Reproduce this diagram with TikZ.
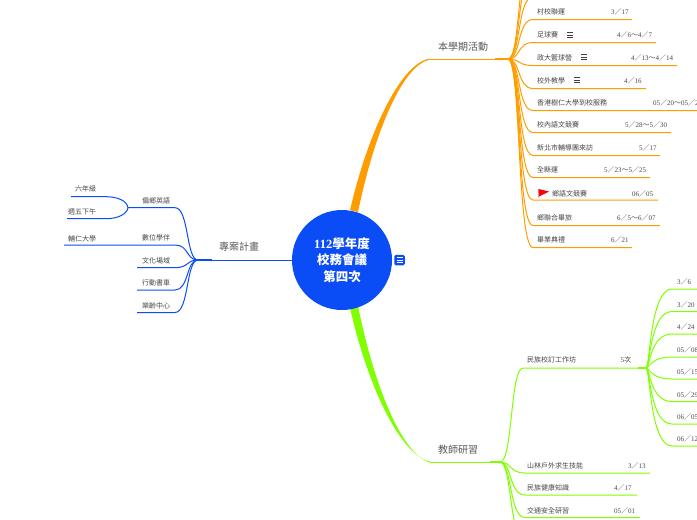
\documentclass[tikz,border=0pt]{standalone}
\usepackage{fontspec}
\setmainfont{Liberation Serif}
\newfontfamily\cjk{Noto Sans CJK TC}
\definecolor{mapblue}{HTML}{0A4CF5}
\definecolor{maporange}{HTML}{FF9D00}
\definecolor{mapgreen}{HTML}{80FF00}
\newcommand{\sla}{{\cjk ／}}
\newcommand{\tld}{{\cjk ～}}
\newcommand{\notesign}[3]{\foreach \k in {-2.5,0,2.5} \draw[#3,line width=.8pt] (#1-3,#2+\k) -- (#1+3,#2+\k);}
\tikzset{
	itemtext/.style={anchor=west,inner sep=0pt,yshift=-1pt,text=black!72,font=\cjk\fontsize{7}{8}\selectfont},
	datetext/.style={anchor=west,inner sep=0pt,yshift=-1pt,text=black!72,font=\fontsize{7}{8}\selectfont},
	headtext/.style={anchor=west,inner sep=0pt,text=black!65,font=\cjk\fontsize{10}{12}\selectfont},
	rootnode/.style={circle,fill=mapblue,minimum size=100pt,inner sep=0pt,align=center,text=white,font=\fontsize{12.5}{16.5}\selectfont\bfseries},
}
\begin{document}
\begin{tikzpicture}[x=1pt,y=-1pt]
	\useasboundingbox (0,0) rectangle (697,520);
	\clip (0,0) rectangle (697,520);
	\coordinate (hubO) at (508,59);
	\coordinate (hubG) at (500,462);
	\coordinate (hubF) at (646,368);
	\coordinate (hubB) at (198,260);
	\coordinate (hubE) at (128,207.7);
	% main branches
	\fill[maporange] (350,210) .. controls (370,125) and (403,62) .. (430,58.5) -- (430,59.5) .. controls (403,65) and (375,130) .. (358,212) -- cycle;
	\fill[mapgreen] (350,308) .. controls (370,395) and (403,456) .. (430,461.5) -- (430,462.5) .. controls (403,455) and (375,390) .. (358,306) -- cycle;
	\draw[maporange,line width=1pt] (430,59) -- (495,59);
	\draw[maporange,line width=2pt] (495,59) -- (hubO);
	\draw[mapgreen,line width=1pt] (430,462) -- (490,462);
	\draw[mapgreen,line width=2pt] (490,462) -- (hubG);
	\draw[mapblue,line width=1pt] (292,260) -- (212,260);
	\draw[mapblue,line width=2pt] (212,260) -- (hubB);
	\node[headtext] (plan) at (438,47) {本學期活動};
	\node[headtext] (study) at (438,450) {教師研習};
	\node[headtext] (project) at (219,247) {專案計畫};
	% orange items
	\foreach \n/\y/\xend/\xdate/\lab/\dat in {
		a/11/632/611/村校聯運/3\sla 17,
		b/34/656/617/足球賽/4\sla 6\tld 4\sla 7,
		c/57/677/631/政大籃球營/4\sla 13\tld 4\sla 14,
		d/80/646/624/校外教學/4\sla 16,
		e/102/710/653/香港樹仁大學到校服務/05\sla 20\tld 05\sla 24,
		f/124/671/625/校內語文競賽/5\sla 28\tld 5\sla 30,
		g/147/660/639/新北市輔導團來訪/5\sla 17,
		h/169/650/604/全縣運/5\sla 23\tld 5\sla 25,
		j/217/660/617/鄉聯合畢旅/6\sla 5\tld 6\sla 07,
		k/239/632/611/畢業典禮/6\sla 21}{
		\coordinate (o\n) at (533,\y+8.5);
		\coordinate (oe\n) at (\xend,\y+8.5);
		\draw[maporange,line width=1pt] (hubO) .. controls (521,59) and (517,\y+8.5) .. (o\n) -- (oe\n);
		\node[itemtext] (lab\n) at (537,\y) {\lab};
		\node[datetext] (dat\n) at (\xdate,\y) {\dat};
	}
	\coordinate (oi) at (533,200);
	\coordinate (oei) at (658,200);
	\draw[maporange,line width=1pt] (hubO) .. controls (521,59) and (517,200) .. (oi) -- (oei);
	\node[itemtext] (labi) at (552,193) {鄉語文競賽};
	\node[datetext] (dati) at (632,193) {06\sla 05};
	\foreach \y in {-3,-26,-48} {
		\coordinate (ot\y) at (533,\y);
		\draw[maporange,line width=1pt] (hubO) .. controls (521,59) and (517,\y) .. (ot\y);
	}
	\notesign{570}{35}{black!75}
	\notesign{584}{57}{black!75}
	\notesign{577}{80}{black!75}
	% flag
	\draw[black!25,line width=1pt] (538,189) -- (538,198);
	\fill[red] (538.5,189) -- (549,191.5) -- (539,196.5) -- cycle;
	% green items
	\coordinate (gwork) at (523,368);
	\draw[mapgreen,line width=1pt] (hubG) .. controls (513,462) and (510,368) .. (gwork) -- (638,368);
	\coordinate (gwe) at (638,368);
	\draw[mapgreen,line width=2pt] (gwe) -- (hubF);
	\node[itemtext] (labw) at (527,359) {民族校訂工作坊};
	\node[datetext] (datw) at (620.5,359) {5{\cjk 次}};
	\foreach \n/\y/\xend/\xdate/\lab/\dat in {
		a/465/650/628/山林戶外求生技能/3\sla 13,
		b/487/637/614/民族健康知識/4\sla 17,
		c/509.5/640/614/交通安全研習/05\sla 01}{
		\coordinate (g\n) at (525,\y+8);
		\coordinate (ge\n) at (\xend,\y+8);
		\draw[mapgreen,line width=1pt] (hubG) .. controls (512,462) and (509,\y+8) .. (g\n) -- (ge\n);
		\node[itemtext] (labg\n) at (527,\y) {\lab};
		\node[datetext] (datg\n) at (\xdate,\y) {\dat};
	}
	\coordinate (gd) at (525,540);
	\draw[mapgreen,line width=1pt] (hubG) .. controls (512,462) and (509,540) .. (gd);
	\foreach \n/\y/\dat in {
		a/289/3\sla 6, b/311.5/3\sla 20, c/334/4\sla 24, d/357/05\sla 08,
		e/379/05\sla 15, f/401.5/05\sla 29, g/424/06\sla 05, h/446/06\sla 12}{
		\coordinate (f\n) at (672,\y);
		\coordinate (fe\n) at (697,\y);
		\draw[mapgreen,line width=1pt] (hubF) .. controls (650,368) and (650,\y) .. (f\n) -- (fe\n);
		\node[datetext] (datf\n) at (677,\y-8) {\dat};
	}
	% blue items
	\foreach \n/\y/\xleft/\lab in {
		a/207.7/128/偏鄉英語,
		b/245/64/數位學伴,
		c/267.7/137/文化場域,
		d/290/137/行動書車,
		e/312.5/137/樂齡中心}{
		\coordinate (b\n) at (175,\y);
		\coordinate (be\n) at (\xleft,\y);
		\draw[mapblue,line width=1pt] (hubB) .. controls (186,260) and (189,\y) .. (b\n) -- (be\n);
		\node[itemtext] (labb\n) at (142,\y-8) {\lab};
	}
	\node[itemtext] (labfu) at (68,238) {輔仁大學};
	\coordinate (bsix) at (106,196.7);
	\coordinate (bfri) at (106,218.7);
	\draw[mapblue,line width=1pt] (hubE) .. controls (127,201) and (118,196.7) .. (bsix) -- (71,196.7);
	\draw[mapblue,line width=1pt] (hubE) .. controls (127,214) and (118,218.7) .. (bfri) -- (67,218.7);
	\node[itemtext] (labsix) at (75,188) {六年級};
	\node[itemtext] (labfri) at (68,211) {週五下午};
	% root
	\node[rootnode] (root) at (342,260) {112{\cjk 學年度}\\{\cjk 校務會議}\\{\cjk 第四次}};
	\node[fill=mapblue,rounded corners=1.5pt,minimum size=10.5pt,inner sep=0pt] (rootnote) at (399.5,260) {};
	\notesign{399.5}{260}{white}
\end{tikzpicture}
\end{document}
